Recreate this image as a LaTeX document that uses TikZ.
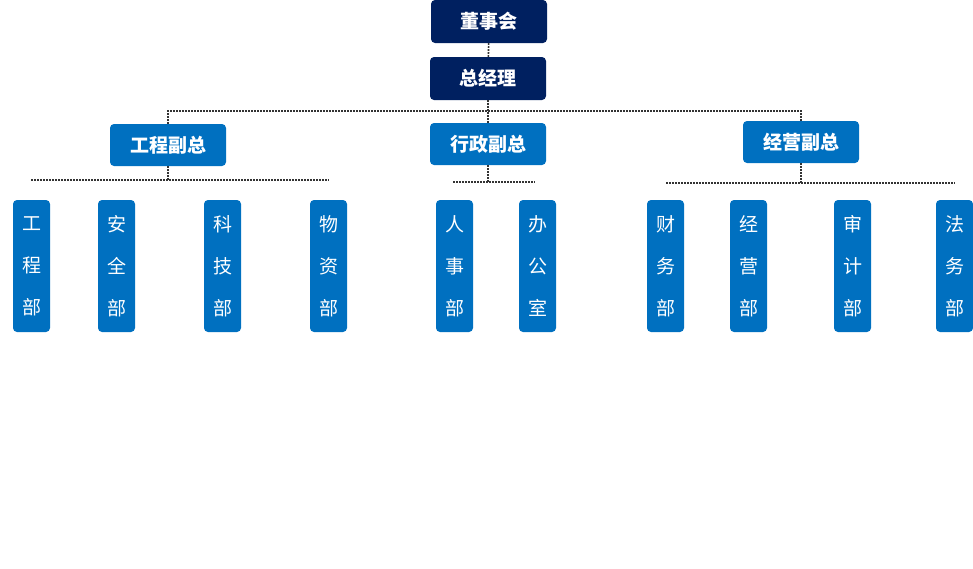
\documentclass[tikz,border=0pt]{standalone}
\usepackage{fontspec}
\newfontfamily\cjk{Noto Sans CJK SC}
\definecolor{topblue}{HTML}{002060}
\definecolor{deptblue}{HTML}{0070C0}
\tikzset{
  headbox/.style={fill=topblue, rounded corners=4pt, minimum width=116pt, minimum height=43pt,
    inner sep=0pt, text=white, font={\cjk\bfseries\fontsize{19}{22}\selectfont}},
  vicebox/.style={headbox, fill=deptblue, minimum height=42pt},
  deptbox/.style={fill=deptblue, rounded corners=4pt, minimum width=37pt, minimum height=132pt,
    inner sep=0pt, text=white, align=center, font={\cjk\fontsize{19}{42}\selectfont}},
  link/.style={draw=black!80, line width=1.6pt, dash pattern=on 1.6pt off 1.4pt}
}

\begin{document}
\begin{tikzpicture}[x=1pt,y=-1pt]
                \useasboundingbox (0,0) rectangle (973,568);
                % top
                \node[headbox] (board) at (489,21.5) {董事会};
                \node[headbox] (gm) at (488,78.5) {总经理};
                \node[vicebox] (engvp) at (168,145) {工程副总};
                \node[vicebox] (admvp) at (488,144) {行政副总};
                \node[vicebox] (bizvp) at (801,142) {经营副总};
                % departments
                \node[deptbox] (eng) at (31.5,266) {工\\程\\部};
                \node[deptbox] (safe) at (116.5,266) {安\\全\\部};
                \node[deptbox] (tech) at (222.5,266) {科\\技\\部};
                \node[deptbox] (supply) at (328.5,266) {物\\资\\部};
                \node[deptbox] (hr) at (454.5,266) {人\\事\\部};
                \node[deptbox] (office) at (537.5,266) {办\\公\\室};
                \node[deptbox] (fin) at (665.5,266) {财\\务\\部};
                \node[deptbox] (biz) at (748.5,266) {经\\营\\部};
                \node[deptbox] (audit) at (852.5,266) {审\\计\\部};
                \node[deptbox] (legal) at (954.5,266) {法\\务\\部};
                % links
                \coordinate (bus) at (489,111);
                \draw[link] (board) -- (gm);
                \draw[link] (gm.south) -- (admvp.north);
                \draw[link] (engvp.north) -- (engvp.north |- bus) -- (bizvp.north |- bus) -- (bizvp.north);
                \coordinate (englft) at (31,180);
                \coordinate (engrgt) at (329,180);
                \draw[link] (engvp.south) -- (engvp.south |- englft);
                \draw[link] (englft) -- (engrgt);
                \coordinate (admlft) at (453,182);
                \coordinate (admrgt) at (535,182);
                \draw[link] (admvp.south) -- (admvp.south |- admlft);
                \draw[link] (admlft) -- (admrgt);
                \coordinate (bizlft) at (666,183);
                \coordinate (bizrgt) at (955,183);
                \draw[link] (bizvp.south) -- (bizvp.south |- bizlft);
                \draw[link] (bizlft) -- (bizrgt);
\end{tikzpicture}
\end{document}
